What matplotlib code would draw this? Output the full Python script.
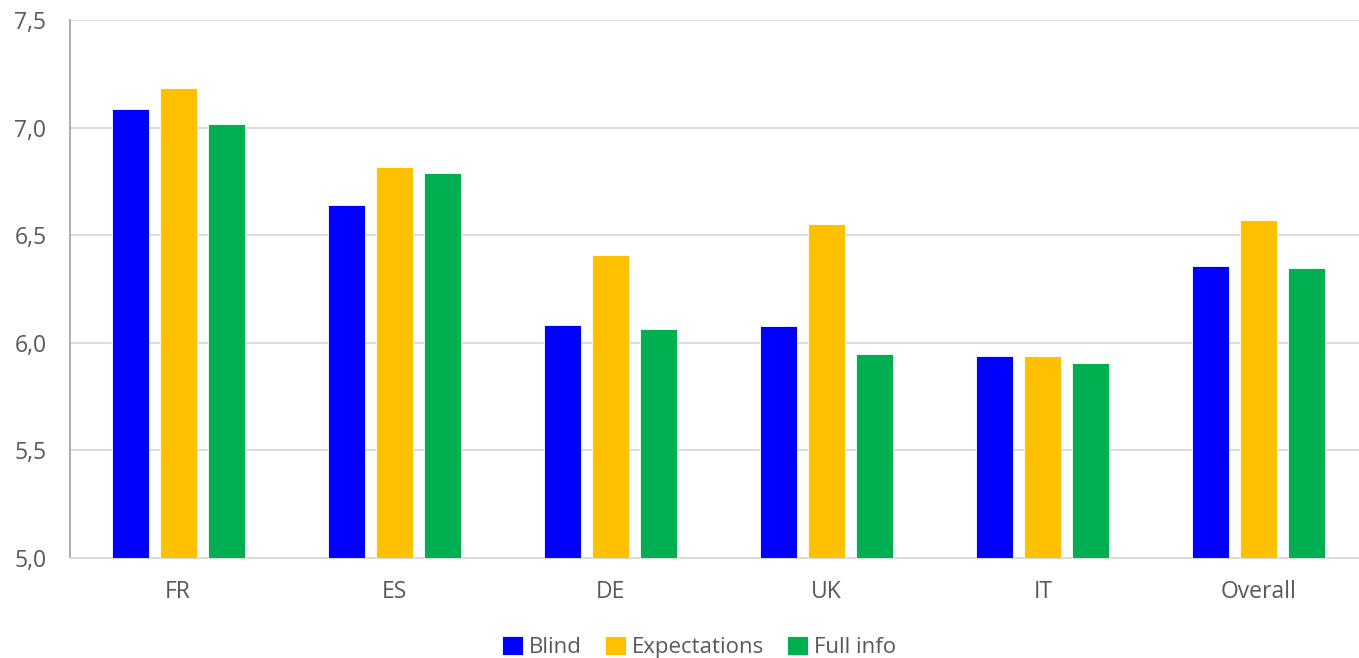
#!/usr/bin/env python3
"""Grouped bar chart: scores by country and information condition."""

import numpy as np
import matplotlib

matplotlib.use("Agg")
import matplotlib.pyplot as plt

categories = ["FR", "ES", "DE", "UK", "IT", "Overall"]
blind = [7.085, 6.641, 6.085, 6.076, 5.937, 6.356]
expectations = [7.183, 6.819, 6.407, 6.552, 5.937, 6.572]
full_info = [7.016, 6.790, 6.065, 5.946, 5.907, 6.347]
series_names = ["Blind", "Expectations", "Full info"]
colors = ["#0000ff", "#ffc000", "#00b050"]
yticks = [5.0, 5.5, 6.0, 6.5, 7.0, 7.5]

plt.rcParams.update({
    "font.family": ["Open Sans", "DejaVu Sans"],
    "font.size": 14,
})

W, H = 1359, 658
fig = plt.figure(figsize=(W / 100, H / 100), dpi=100)
# the plot area runs past the right edge of the image in the original
ax = fig.add_axes([70 / W, 1 - 558 / H, 1297 / W, 538 / H])

x = np.arange(len(categories))
width = 0.171
step = 0.222
for i, (vals, name, c) in enumerate(zip([blind, expectations, full_info], series_names, colors)):
    ax.bar(x + (i - 1) * step, np.array(vals) - 5.0, bottom=5.0, width=width,
           color=c, label=name, zorder=3, edgecolor="white", linewidth=0.6)

ax.set_xlim(-0.5, len(categories) - 0.5)
ax.set_ylim(5.0, 7.5)
ax.set_yticks(yticks)
ax.set_yticklabels([f"{v:.1f}".replace(".", ",") for v in yticks])
ax.set_xticks(x)
ax.set_xticklabels(categories)
ax.tick_params(axis="both", length=0, colors="#595959", labelsize=16.5)
ax.tick_params(axis="y", pad=17)
ax.tick_params(axis="x", pad=16)

ax.grid(axis="y", color="#d9d9d9", linewidth=1.3, zorder=0)
ax.set_axisbelow(True)
for s in ["top", "right"]:
    ax.spines[s].set_visible(False)
ax.spines["left"].set_color("#a6a6a6")
ax.spines["left"].set_linewidth(1.3)
ax.spines["bottom"].set_color("#d9d9d9")
ax.spines["bottom"].set_linewidth(1.3)

leg = fig.legend(loc="center", bbox_to_anchor=(699 / W, 1 - 647 / H), ncol=3,
                 frameon=False, fontsize=16, handlelength=0.95, handleheight=0.95,
                 handletextpad=0.25, columnspacing=1.05, borderpad=0.1)
for t in leg.get_texts():
    t.set_color("#595959")

fig.savefig("out.png", dpi=100)
